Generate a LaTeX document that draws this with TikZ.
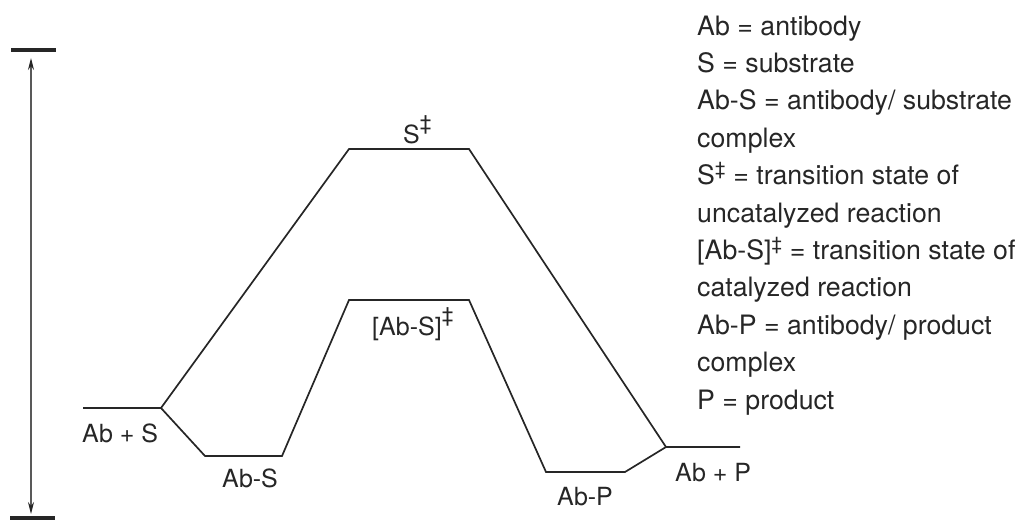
\documentclass[tikz,border=0pt]{standalone}
\usepackage{fontspec}
\setmainfont{TeX Gyre Heros}
\usetikzlibrary{arrows.meta}
\newcommand{\dsup}{\raisebox{0.5em}{\fontsize{21}{21}\selectfont ‡}}
\newcommand{\lsup}{\textsuperscript{‡}}
\begin{document}
\begin{tikzpicture}[x=1pt,y=-1pt,
  ink/.style={color=black!85},
  prof/.style={ink, line width=1.7pt, line join=miter},
  lbl/.style={ink, inner sep=0pt, anchor=base west, font=\fontsize{25}{30}\selectfont},
  leg/.style={ink, inner sep=0pt, anchor=base west, font=\fontsize{26.7}{37}\selectfont},
  bar/.style={ink, line width=4.5pt},
  dbl/.style={black!65, line width=1.2pt, {Stealth[length=12pt,width=6pt,black!85]}-{Stealth[length=12pt,width=6pt,black!85]}}]
\useasboundingbox (0,0) rectangle (1022,520);
% energy levels
\coordinate (a0) at (83,408);
\coordinate (a1) at (161,408);
\coordinate (b1) at (205,456);
\coordinate (b2) at (282,456);
\coordinate (c1) at (349,300);
\coordinate (c2) at (469,300);
\coordinate (d1) at (546,472);
\coordinate (d2) at (625,472);
\coordinate (e1) at (666,447);
\coordinate (e2) at (740,447);
\coordinate (u1) at (349,149);
\coordinate (u2) at (469,149);
\draw[prof] (a0) -- (a1) -- (b1) -- (b2) -- (c1) -- (c2) -- (d1) -- (d2) -- (e1) -- (e2);
\draw[prof] (a1) -- (u1) -- (u2) -- (e1);
% energy scale
\coordinate (t1) at (11,50);
\coordinate (t2) at (56,50);
\coordinate (s1) at (10,518);
\coordinate (s2) at (55,518);
\coordinate (tm) at (31,50);
\coordinate (bm) at (31,518);
\draw[bar] (t1) -- (t2);
\draw[bar] (s1) -- (s2);
\draw[dbl, shorten <=8pt, shorten >=4pt] (tm) -- (bm);
% labels
\node[lbl] (abs) at (82,442) {Ab + S};
\node[lbl] (abscx) at (222,487) {Ab-S};
\node[lbl] (tsc) at (372,335) {[Ab-S]\dsup};
\node[lbl] (tsu) at (403,143) {S\dsup};
\node[lbl] (abpcx) at (557,505) {Ab-P};
\node[lbl] (abp) at (675,481) {Ab + P};
% legend
\foreach \t [count=\i] in {
  {Ab = antibody},
  {S = substrate},
  {Ab-S = antibody/ substrate},
  {complex},
  {S\lsup{} = transition state of},
  {uncatalyzed reaction},
  {[Ab-S]\lsup{} = transition state of},
  {catalyzed reaction},
  {Ab-P = antibody/ product},
  {complex},
  {P = product}}
  \node[leg] (leg\i) at (697,{35+37.4*(\i-1)}) {\t};
\end{tikzpicture}
\end{document}
